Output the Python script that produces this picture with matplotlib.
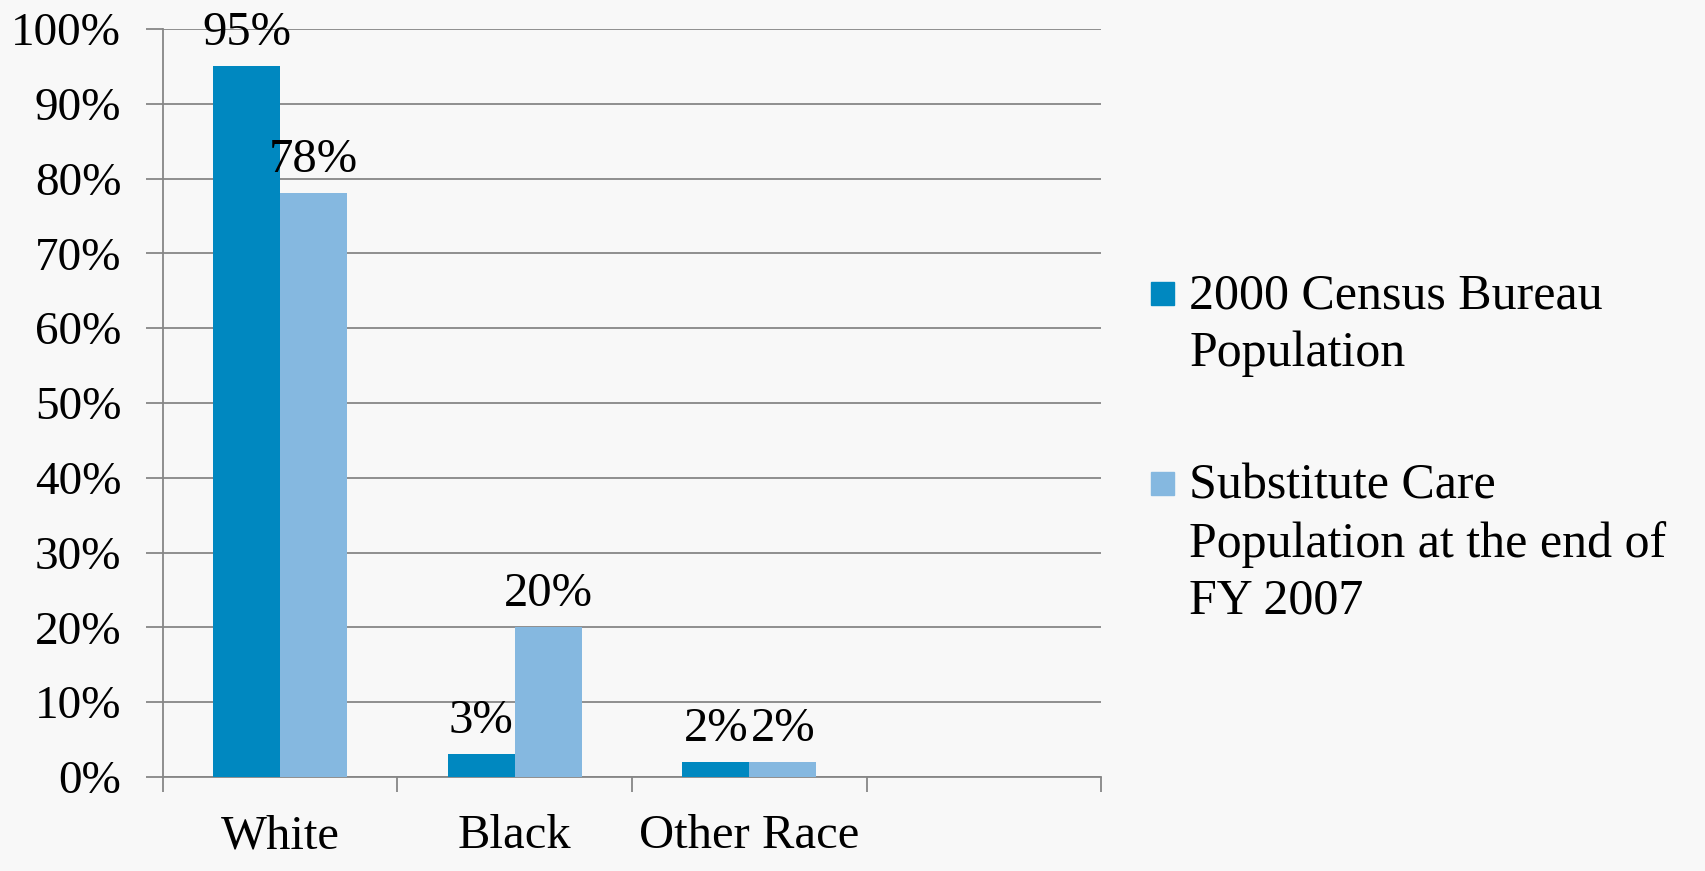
import matplotlib
matplotlib.use("Agg")
import matplotlib.pyplot as plt
import numpy as np

# Données
categories = ["White", "Black", "Other Race", ""]
census_2000 = [95, 3, 2]
substitute_care = [78, 20, 2]
series_names = ["2000 Census Bureau\nPopulation",
                "Substitute Care\nPopulation at the end of\nFY 2007"]
yticks = np.arange(0, 101, 10)

col_dark = "#0088c0"
col_light = "#85b8e0"
bg = "#f8f8f8"

plt.rcParams['font.family'] = ['Liberation Serif', 'DejaVu Serif']

fig = plt.figure(figsize=(17.06, 8.71), dpi=100, facecolor=bg)
ax = fig.add_axes([0.0955, 0.108, 0.5499, 0.8588])
ax.set_facecolor(bg)

w = 0.286
x = np.arange(len(census_2000))
b1 = ax.bar(x - w / 2, census_2000, w, color=col_dark, zorder=3)
b2 = ax.bar(x + w / 2, substitute_care, w, color=col_light, zorder=3)
ax.bar_label(b1, labels=[f"{v}%" for v in census_2000], fontsize=35, padding=8)
ax.bar_label(b2, labels=[f"{v}%" for v in substitute_care], fontsize=35, padding=8)

ax.set_xlim(-0.5, len(categories) - 0.5)
ax.set_ylim(0, 100)
ax.set_yticks(yticks)
ax.set_yticklabels([f"{v}%" for v in yticks], fontsize=34)
ax.set_xticks(np.arange(len(categories)))
ax.set_xticklabels(categories, fontsize=35)
ax.set_xticks(np.arange(len(categories) + 1) - 0.5, minor=True)
ax.tick_params(axis='x', which='major', length=0, pad=27)
ax.tick_params(axis='x', which='minor', length=11, width=1.3, color="#868686")
ax.tick_params(axis='y', length=12, width=1.3, color="#868686", pad=18)

ax.grid(axis='y', color="#868686", linewidth=1.3, zorder=0)
for s in ["top", "right"]:
    ax.spines[s].set_visible(False)
for s in ["left", "bottom"]:
    ax.spines[s].set_color("#868686")
    ax.spines[s].set_linewidth(1.3)

# Légende dessinée à la main (carré aligné sur la première ligne)
leg_y = [0.663, 0.445]
for name, col, y in zip(series_names, [col_dark, col_light], leg_y):
    fig.patches.append(plt.Rectangle((0.6747, y - 0.013), 0.0135, 0.0265,
                                     transform=fig.transFigure, color=col))
    fig.text(0.697, y + 0.023, name, fontsize=36, va='top', ha='left',
             linespacing=1.3)

fig.savefig("out.png", dpi=100, facecolor=bg)
